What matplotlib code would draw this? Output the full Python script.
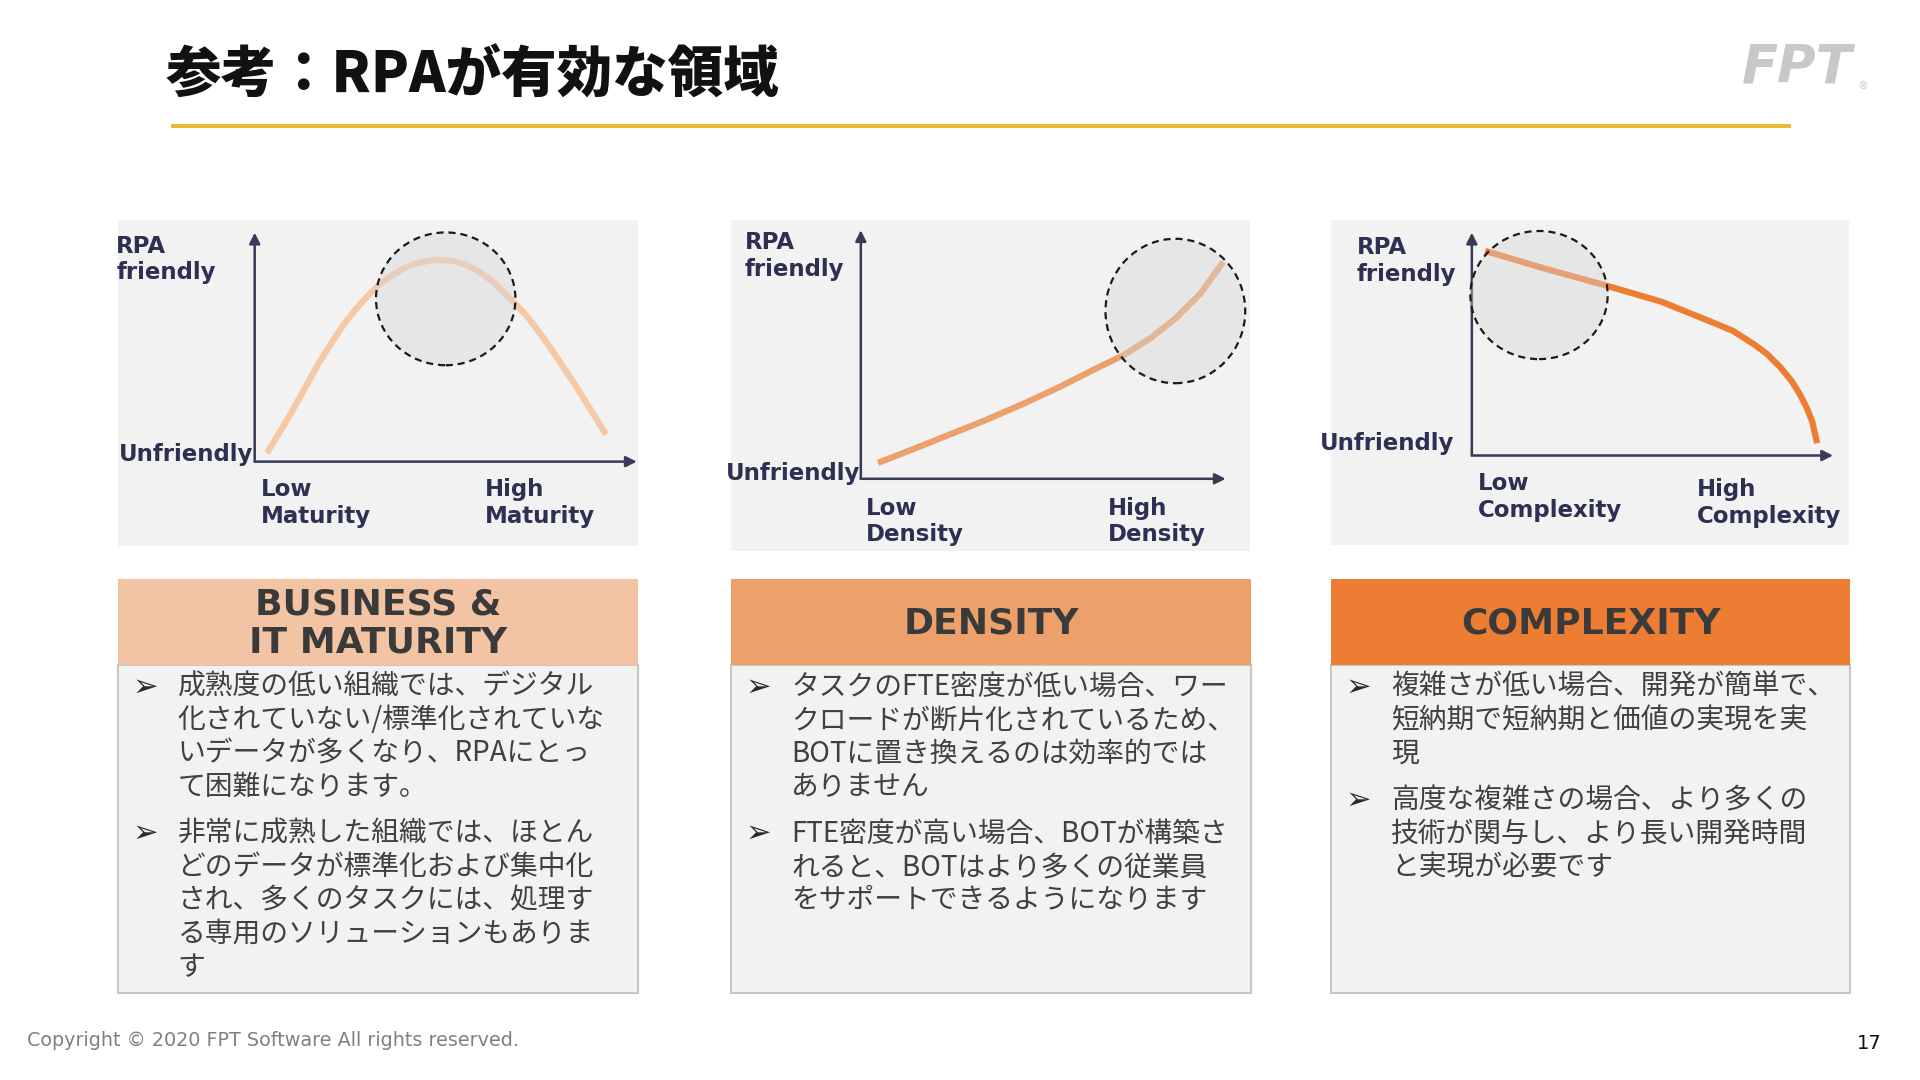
import matplotlib
matplotlib.use("Agg")
import matplotlib.pyplot as plt
from matplotlib.patches import Rectangle, Ellipse

# ---------------- data ----------------
title_text = "参考：RPAが有効な領域"
footer_text = "Copyright © 2020 FPT Software All rights reserved."
page_number = "17"

y_top_label = "RPA\nfriendly"
y_bottom_label = "Unfriendly"

# chart 1: business & IT maturity (x, y on 0..10 scales)
maturity_x = [0.32, 0.71, 1.03, 1.35, 1.67, 1.99, 2.31, 2.63, 2.95, 3.27, 3.59, 3.91, 4.23, 4.71,
              5.19, 5.51, 5.83, 6.15, 6.47, 6.79, 7.12, 7.44, 7.76, 8.08, 8.40, 8.78, 9.20]
maturity_y = [0.37, 1.44, 2.35, 3.32, 4.28, 5.13, 5.94, 6.63, 7.22, 7.75, 8.13, 8.45, 8.66, 8.82,
              8.77, 8.61, 8.34, 7.97, 7.49, 6.95, 6.36, 5.67, 4.92, 4.12, 3.32, 2.30, 1.18]
maturity_circle = (5.0, 7.11, 3.65, 5.8)    # cx, cy, width, height (data units)
maturity_labels = ["Low\nMaturity", "High\nMaturity"]

# chart 2: density
density_x = [0.47, 1.41, 2.42, 3.42, 4.43, 5.44, 6.44, 7.21, 7.95, 8.62, 9.30, 9.93]
density_y = [0.64, 1.18, 1.77, 2.36, 3.00, 3.69, 4.43, 4.98, 5.67, 6.45, 7.44, 8.72]
density_circle = (8.62, 6.75, 3.83, 5.81)
density_labels = ["Low\nDensity", "High\nDensity"]

# chart 3: complexity
complexity_x = [0.37, 1.97, 3.69, 5.25, 6.64, 7.22, 7.80, 8.17, 8.54, 8.85, 9.08, 9.27, 9.42, 9.56]
complexity_y = [9.18, 8.41, 7.64, 6.90, 5.99, 5.60, 5.00, 4.56, 3.96, 3.35, 2.75, 2.14, 1.54, 0.55]
complexity_circle = (1.86, 7.20, 3.80, 5.75)
complexity_labels = ["Low\nComplexity", "High\nComplexity"]

headers = ["BUSINESS &\nIT MATURITY", "DENSITY", "COMPLEXITY"]

bullets_maturity = [
    ["成熟度の低い組織では、デジタル", "化されていない/標準化されていな", "いデータが多くなり、RPAにとっ", "て困難になります。"],
    ["非常に成熟した組織では、ほとん", "どのデータが標準化および集中化", "され、多くのタスクには、処理す", "る専用のソリューションもありま", "す"],
]
bullets_density = [
    ["タスクのFTE密度が低い場合、ワー", "クロードが断片化されているため、", "BOTに置き換えるのは効率的では", "ありません"],
    ["FTE密度が高い場合、BOTが構築さ", "れると、BOTはより多くの従業員", "をサポートできるようになります"],
]
bullets_complexity = [
    ["複雑さが低い場合、開発が簡単で、", "短納期で短納期と価値の実現を実", "現"],
    ["高度な複雑さの場合、より多くの", "技術が関与し、より長い開発時間", "と実現が必要です"],
]

# ---------------- styles ----------------
W, H = 1568, 882
PANEL_BG = "#F2F2F2"
AXIS_C = "#383A5A"
LABEL_C = "#2D3052"
HEAD_TXT = "#3A3A3A"
BODY_TXT = "#404040"
header_colors = ["#F3C4A3", "#EDA06A", "#EC7D32"]
curve_colors = ["#F5C8A6", "#ECA06B", "#EC7D31"]

fig = plt.figure(figsize=(19.2, 10.8), dpi=100)
fig.patch.set_facecolor("white")
base = fig.add_axes([0, 0, 1, 1])
base.set_xlim(0, W)
base.set_ylim(H, 0)
base.axis("off")

JP = ["Noto Sans CJK JP", "DejaVu Sans"]
LAT = ["DejaVu Sans"]

# title
base.text(135, 62, title_text, fontsize=40, fontweight="black", family=JP,
          color="#111111", va="center", ha="left")
base.plot([140, 1463], [103, 103], color="#E8B830", lw=2.8, solid_capstyle="butt")

# logo
base.text(1468, 55, "FPT", fontsize=38, fontweight="bold", fontstyle="italic",
          family=LAT, color="#C8C8C8", ha="center", va="center")
base.text(1517, 70, "®", fontsize=8, family=LAT, color="#C8C8C8", ha="left", va="center")

# footer
base.text(22, 850, footer_text, fontsize=13.8, family=LAT, color="#808080",
          ha="left", va="center")
base.text(1537, 852, page_number, fontsize=14, family=LAT, color="#111111",
          ha="right", va="center")

# ---------------- charts ----------------
panels = [
    dict(bg=(96, 180, 521, 446), origin=(208, 377), tip=(520, 190),
         x=maturity_x, y=maturity_y, circ=maturity_circle, xl=maturity_labels,
         rpa=(95, 212), unf=(97, 371), low=(213, 411), high=(396, 411)),
    dict(bg=(597, 180, 1021, 450), origin=(703, 391), tip=(1001, 188),
         x=density_x, y=density_y, circ=density_circle, xl=density_labels,
         rpa=(608, 209), unf=(593, 387), low=(707, 426), high=(905, 426)),
    dict(bg=(1087, 180, 1510, 445), origin=(1202, 372), tip=(1497, 190),
         x=complexity_x, y=complexity_y, circ=complexity_circle, xl=complexity_labels,
         rpa=(1108, 213), unf=(1078, 362), low=(1207, 406), high=(1386, 411)),
]

for i, p in enumerate(panels):
    x0, y0, x1, y1 = p["bg"]
    base.add_patch(Rectangle((x0, y0), x1 - x0, y1 - y0, facecolor=PANEL_BG,
                             edgecolor="none", zorder=0))
    ox, oy = p["origin"]
    tx, ty = p["tip"]
    ax = fig.add_axes([ox / W, 1 - oy / H, (tx - ox) / W, (oy - ty) / H])
    ax.set_xlim(0, 10)
    ax.set_ylim(0, 10)
    ax.patch.set_alpha(0)
    for s in ax.spines.values():
        s.set_visible(False)
    ax.set_xticks([])
    ax.set_yticks([])
    ap = dict(arrowstyle="-|>", color=AXIS_C, lw=1.8, mutation_scale=16,
              shrinkA=0, shrinkB=0)
    ax.annotate("", xy=(1, 0), xytext=(0, 0), xycoords="axes fraction",
                arrowprops=ap, annotation_clip=False)
    ax.annotate("", xy=(0, 1), xytext=(0, 0), xycoords="axes fraction",
                arrowprops=ap, annotation_clip=False)
    ax.plot(p["x"], p["y"], color=curve_colors[i], lw=4.5, solid_capstyle="butt",
            solid_joinstyle="round", clip_on=False, zorder=2)
    cx, cy, cw, ch = p["circ"]
    ax.add_patch(Ellipse((cx, cy), cw, ch, facecolor=(0.84, 0.84, 0.84, 0.42),
                         edgecolor="#1A1A1A", lw=1.6, ls=(0, (3.2, 2.2)),
                         clip_on=False, zorder=3))
    kw = dict(fontsize=16.5, fontweight="bold", family=LAT, color=LABEL_C,
              ha="left", va="center", linespacing=1.2)
    base.text(*p["rpa"], y_top_label, **kw)
    base.text(*p["unf"], y_bottom_label, **kw)
    base.text(*p["low"], p["xl"][0], **kw)
    base.text(*p["high"], p["xl"][1], **kw)

# ---------------- text boxes ----------------
boxes = [(96, 521, bullets_maturity), (597, 1022, bullets_density), (1087, 1511, bullets_complexity)]
HEAD_TOP, HEAD_BOT, BOX_BOT = 473, 543, 811
PITCH, GAP, FIRST = 27.3, 10.5, 561

for i, (bx0, bx1, bl) in enumerate(boxes):
    base.add_patch(Rectangle((bx0, HEAD_BOT), bx1 - bx0, BOX_BOT - HEAD_BOT,
                             facecolor=PANEL_BG, edgecolor="#C6C6C6", lw=1.5, zorder=1))
    base.add_patch(Rectangle((bx0, HEAD_TOP), bx1 - bx0, HEAD_BOT - HEAD_TOP,
                             facecolor=header_colors[i], edgecolor="none", zorder=2))
    base.text((bx0 + bx1) / 2, (HEAD_TOP + HEAD_BOT) / 2 + 1, headers[i], fontsize=26,
              fontweight="bold", family=LAT, color=HEAD_TXT, ha="center",
              va="center", linespacing=1.15, zorder=3)
    line_idx = 0
    for b, lines in enumerate(bl):
        yb = FIRST + PITCH * line_idx + GAP * b
        base.text(bx0 + 12, yb, "➢", fontsize=22, family=LAT,
                  color="#2A2A2A", ha="left", va="center", zorder=3)
        for k, ln in enumerate(lines):
            base.text(bx0 + 49, yb + PITCH * k, ln, fontsize=20, family=JP,
                      color=BODY_TXT, ha="left", va="center", zorder=3)
        line_idx += len(lines)

fig.savefig("out.png", dpi=100, facecolor="white")
